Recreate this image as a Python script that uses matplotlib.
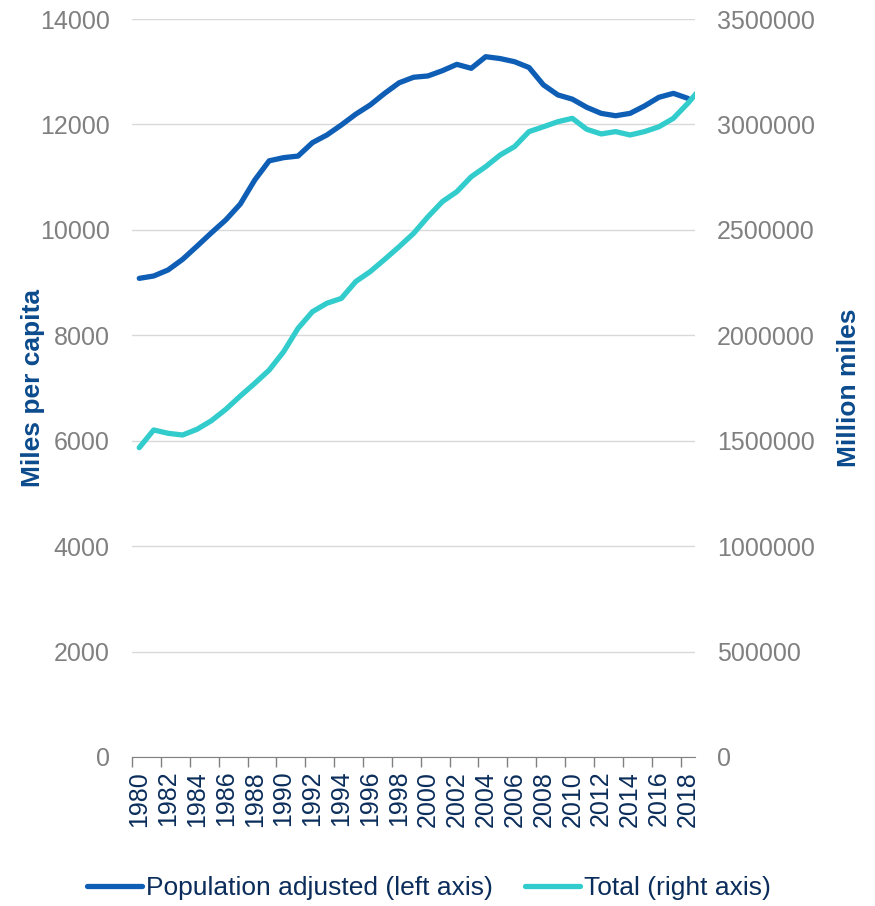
import numpy as np
import matplotlib
matplotlib.use("Agg")
import matplotlib.pyplot as plt

plt.rcParams['font.family'] = ['Liberation Sans', 'DejaVu Sans']

# === Data ===
years = list(range(1980, 2019))
years_total = list(range(1980, 2020))

per_capita = [9080, 9125, 9240, 9440, 9690, 9945, 10190, 10490, 10945, 11310,
              11370, 11400, 11655, 11800, 11990, 12195, 12370, 12590, 12790, 12895,
              12920, 13020, 13140, 13065, 13285, 13250, 13190, 13080, 12750, 12560,
              12480, 12325, 12210, 12165, 12210, 12350, 12515, 12590, 12495]

total = [1467000, 1551000, 1535000, 1527000, 1554000, 1595000, 1649000, 1712000, 1772000, 1835000,
         1922000, 2033000, 2112000, 2152000, 2175000, 2255000, 2302000, 2360000, 2420000, 2483000,
         2562000, 2634000, 2681000, 2752000, 2800000, 2855000, 2895000, 2966000, 2989000, 3013000,
         3029000, 2977000, 2955000, 2966000, 2950000, 2966000, 2989000, 3029000, 3100000, 3180000]

label_years = list(range(1980, 2019, 2))

dark_blue = '#0E5EB6'
teal = '#33CCCC'
grey = '#808080'
navy = '#0B2D5B'
title_blue = '#0B4A8C'

# === Figure ===
fig = plt.figure(figsize=(8.75, 9.06), dpi=100)
ax = fig.add_axes([0.1509, 0.1645, 0.6434, 0.8145])
ax2 = ax.twinx()

l1, = ax.plot(years, per_capita, color=dark_blue, lw=3.8,
              solid_capstyle='round', solid_joinstyle='round',
              label='Population adjusted (left axis)', zorder=3)
l2, = ax2.plot(years_total, total, color=teal, lw=3.8,
               solid_capstyle='round', solid_joinstyle='round',
               label='Total (right axis)', zorder=3)

ax.set_xlim(1979.5, 2018.5)
ax.set_ylim(0, 14000)
ax2.set_ylim(0, 3500000)
ax.set_yticks(range(0, 14001, 2000))
ax2.set_yticks(range(0, 3500001, 500000))
ax2.ticklabel_format(style='plain', axis='y', useOffset=False)
ax.yaxis.grid(True, color='#D9D9D9', lw=1)
ax.set_axisbelow(True)

# x axis: tick marks between categories, labels at category centres
ax.set_xticks([y - 0.5 for y in label_years])
ax.set_xticklabels([])
ax.set_xticks(label_years, minor=True)
ax.set_xticklabels([str(y) for y in label_years], minor=True, rotation=90,
                   fontsize=18, color=navy)
ax.tick_params(axis='x', which='major', length=7, color=grey, width=1)
ax.tick_params(axis='x', which='minor', length=0, pad=10)

ax.tick_params(axis='y', length=0, labelsize=18, labelcolor=grey, pad=16)
ax2.tick_params(axis='y', length=0, labelsize=18, labelcolor=grey, pad=16)

for a in (ax, ax2):
    for s in ('top', 'left', 'right'):
        a.spines[s].set_visible(False)
ax.spines['bottom'].set_color(grey)
ax2.spines['bottom'].set_visible(False)

ax.set_ylabel('Miles per capita', fontsize=19, fontweight='bold', color=title_blue)
ax2.set_ylabel('Million miles', fontsize=19, fontweight='bold', color=title_blue)
ax.yaxis.set_label_coords(-0.155, 0.5)
ax2.yaxis.set_label_coords(1.252, 0.5)

fig.legend(handles=[l1, l2], loc='center', bbox_to_anchor=(0.49, 18 / 906), ncol=2,
           frameon=False, fontsize=19, handlelength=2.1, handletextpad=0.15,
           columnspacing=1.2, labelcolor=navy)

plt.savefig('out.png', dpi=100)
